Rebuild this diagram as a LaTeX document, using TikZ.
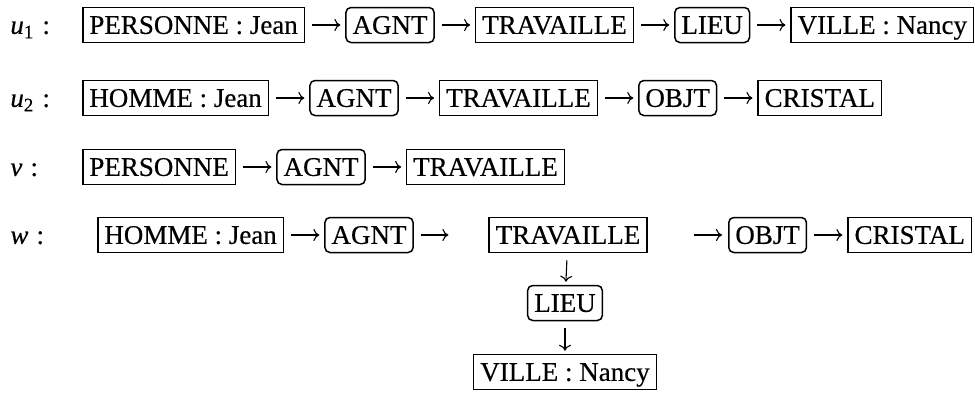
\documentclass[tikz,border=0pt]{standalone}
\usepackage{fontspec}
\setmainfont[FakeBold=0.4]{Liberation Serif}
\usetikzlibrary{arrows.meta,positioning}
\newcommand{\tksp}{\hspace{0.25em}}
\begin{document}
\begin{tikzpicture}[x=0.5pt,y=-0.5pt,
  every node/.style={font=\fontsize{13.5}{16}\selectfont},
  cbox/.style={draw, line width=0.75pt, inner xsep=3.3pt, inner ysep=4.3pt, text height=8.9pt, text depth=0pt},
  rbox/.style={cbox, rounded corners=2.5pt},
  lab/.style={inner sep=0pt, text height=8.9pt, text depth=0pt, anchor=west},
  arr/.style={line width=0.55pt, -{To[length=3pt,width=6pt]}, shorten <=3.4pt, shorten >=2.4pt},
  gap/.style={right=20pt of #1}
]
\useasboundingbox (0,0) rectangle (975,392);

% row u1
\node[lab] (lu1) at (10,25) {\textit{u}\textsubscript{1}\hspace{0.3em}:};
\node[cbox, anchor=west] (p1) at (82,25) {PERSONNE\tksp:\tksp Jean};
\node[rbox, gap=p1] (a1) {AGNT};
\node[cbox, gap=a1] (t1) {TRAVAILLE};
\node[rbox, gap=t1] (l1) {LIEU};
\node[cbox, gap=l1] (v1) {VILLE\tksp:\tksp Nancy};
\draw[arr] (p1) -- (a1);
\draw[arr] (a1) -- (t1);
\draw[arr] (t1) -- (l1);
\draw[arr] (l1) -- (v1);

% row u2
\node[lab] (lu2) at (10,98) {\textit{u}\textsubscript{2}\hspace{0.3em}:};
\node[cbox, anchor=west] (h2) at (82,98) {HOMME\tksp:\tksp Jean};
\node[rbox, gap=h2] (a2) {AGNT};
\node[cbox, gap=a2] (t2) {TRAVAILLE};
\node[rbox, gap=t2] (o2) {OBJT};
\node[cbox, gap=o2] (c2) {CRISTAL};
\draw[arr] (h2) -- (a2);
\draw[arr] (a2) -- (t2);
\draw[arr] (t2) -- (o2);
\draw[arr] (o2) -- (c2);

% row v
\node[lab] (lv) at (10,167) {\textit{v}\hspace{0.3em}:};
\node[cbox, anchor=west] (p3) at (82,167) {PERSONNE};
\node[rbox, gap=p3] (a3) {AGNT};
\node[cbox, gap=a3] (t3) {TRAVAILLE};
\draw[arr] (p3) -- (a3);
\draw[arr] (a3) -- (t3);

% row w
\node[lab] (lw) at (10,235) {\textit{w}\hspace{0.3em}:};
\node[cbox, anchor=west] (h4) at (97,235) {HOMME\tksp:\tksp Jean};
\node[rbox, gap=h4] (a4) {AGNT};
\node[cbox] (t4) at (568,235) {TRAVAILLE};
\node[rbox, anchor=west] (o4) at (728,235) {OBJT};
\node[cbox, gap=o4] (c4) {CRISTAL};
\node[rbox] (l4) at (565,303) {LIEU};
\node[cbox] (v4) at (565,372) {VILLE\tksp:\tksp Nancy};
\draw[arr] (h4) -- (a4);
\draw[arr, shorten >=20pt] (a4) -- (t4);
\draw[arr, shorten <=23pt, shorten >=3pt] (t4) -- (o4);
\draw[arr] (o4) -- (c4);
\draw[arr, shorten <=3.5pt, shorten >=1.5pt] (t4) -- (l4);
\draw[arr, shorten <=3.5pt, shorten >=1.5pt] (l4) -- (v4);
\end{tikzpicture}
\end{document}
